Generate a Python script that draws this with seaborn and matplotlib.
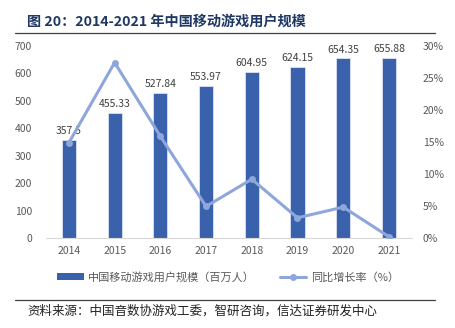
import matplotlib
matplotlib.use("Agg")
import matplotlib.pyplot as plt
import seaborn as sns
import pandas as pd
from matplotlib.lines import Line2D
from matplotlib.patches import Patch

years = ["2014", "2015", "2016", "2017", "2018", "2019", "2020", "2021"]
users = [357.5, 455.33, 527.84, 553.97, 604.95, 624.15, 654.35, 655.88]
growth = [14.9, 27.4, 15.9, 4.95, 9.2, 3.17, 4.84, 0.23]
left_ticks = [0, 100, 200, 300, 400, 500, 600, 700]
right_ticks = [0, 5, 10, 15, 20, 25, 30]

title = "图 20：2014-2021 年中国移动游戏用户规模"
bar_label = "中国移动游戏用户规模（百万人）"
line_label = "同比增长率（%）"
source = "资料来源：中国音数协游戏工委，智研咨询，信达证券研发中心"

sns.set_theme(style="white")
plt.rcParams['font.family'] = ['Noto Sans CJK SC', 'DejaVu Sans']

df = pd.DataFrame({"year": years, "users": users, "growth": growth})

bar_color = "#3A62AC"
line_color = "#8EA6DB"
tick_color = "#595959"

fig = plt.figure(figsize=(4.56, 3.28), dpi=100)
ax = fig.add_axes([0.101, 0.274, 0.802, 0.586])
sns.barplot(data=df, x="year", y="users", color=bar_color, width=0.31,
            edgecolor="#DCE3F2", linewidth=0.6, saturation=1, ax=ax)
ax.set_xlim(-0.5, 7.5)
ax.set_ylim(0, 700)
ax.set_yticks(left_ticks)
ax.set_xlabel("")
ax.set_ylabel("")
for s in ["top", "right", "left"]:
    ax.spines[s].set_visible(False)
ax.spines["bottom"].set_color("#D9D9D9")
ax.spines["bottom"].set_linewidth(0.8)
ax.tick_params(axis="both", length=0, labelsize=7.5, colors=tick_color, pad=6)
ax.tick_params(axis="y", pad=10)
for i, v in enumerate(users):
    ax.text(i, v + 14, f"{v:g}", ha="center", va="bottom",
            fontsize=7.5, color="#404040", zorder=1)

ax2 = ax.twinx()
sns.lineplot(x=list(range(len(years))), y=growth, ax=ax2, color=line_color,
             linewidth=2.2, marker="o", markersize=5, markeredgewidth=0, zorder=5)
ax2.set_ylim(0, 30)
ax2.set_yticks(right_ticks)
ax2.set_yticklabels([f"{t}%" for t in right_ticks])
for s in ["top", "right", "left", "bottom"]:
    ax2.spines[s].set_visible(False)
ax2.tick_params(axis="y", length=0, labelsize=7.5, colors=tick_color, pad=8)
ax2.set_ylabel("")

# title and rules
fig.text(27/456, 1 - 22/328, title, fontsize=10.2, fontweight="bold", color="#1F3864",
         ha="left", va="center")
fig.add_artist(Line2D([15/456, 435/456], [1 - 33/328, 1 - 33/328], color="#404040", lw=0.9))
fig.add_artist(Line2D([15/456, 435/456], [1 - 300/328, 1 - 300/328], color="#404040", lw=0.9))
fig.text(27/456, 1 - 311/328, source, fontsize=9, color="#222222", ha="left", va="center",
         style="italic")

handles = [Patch(facecolor=bar_color, edgecolor="none"),
           Line2D([0], [0], color=line_color, lw=2.2, marker="o", markersize=5, markeredgewidth=0)]
fig.legend(handles, [bar_label, line_label], loc="center", bbox_to_anchor=(0.5, 1 - 277/328),
           ncol=2, frameon=False, fontsize=8, labelcolor=tick_color, handlelength=2.4,
           handleheight=0.6, columnspacing=2.2, handletextpad=0.4)

fig.savefig("out.png", dpi=100)
